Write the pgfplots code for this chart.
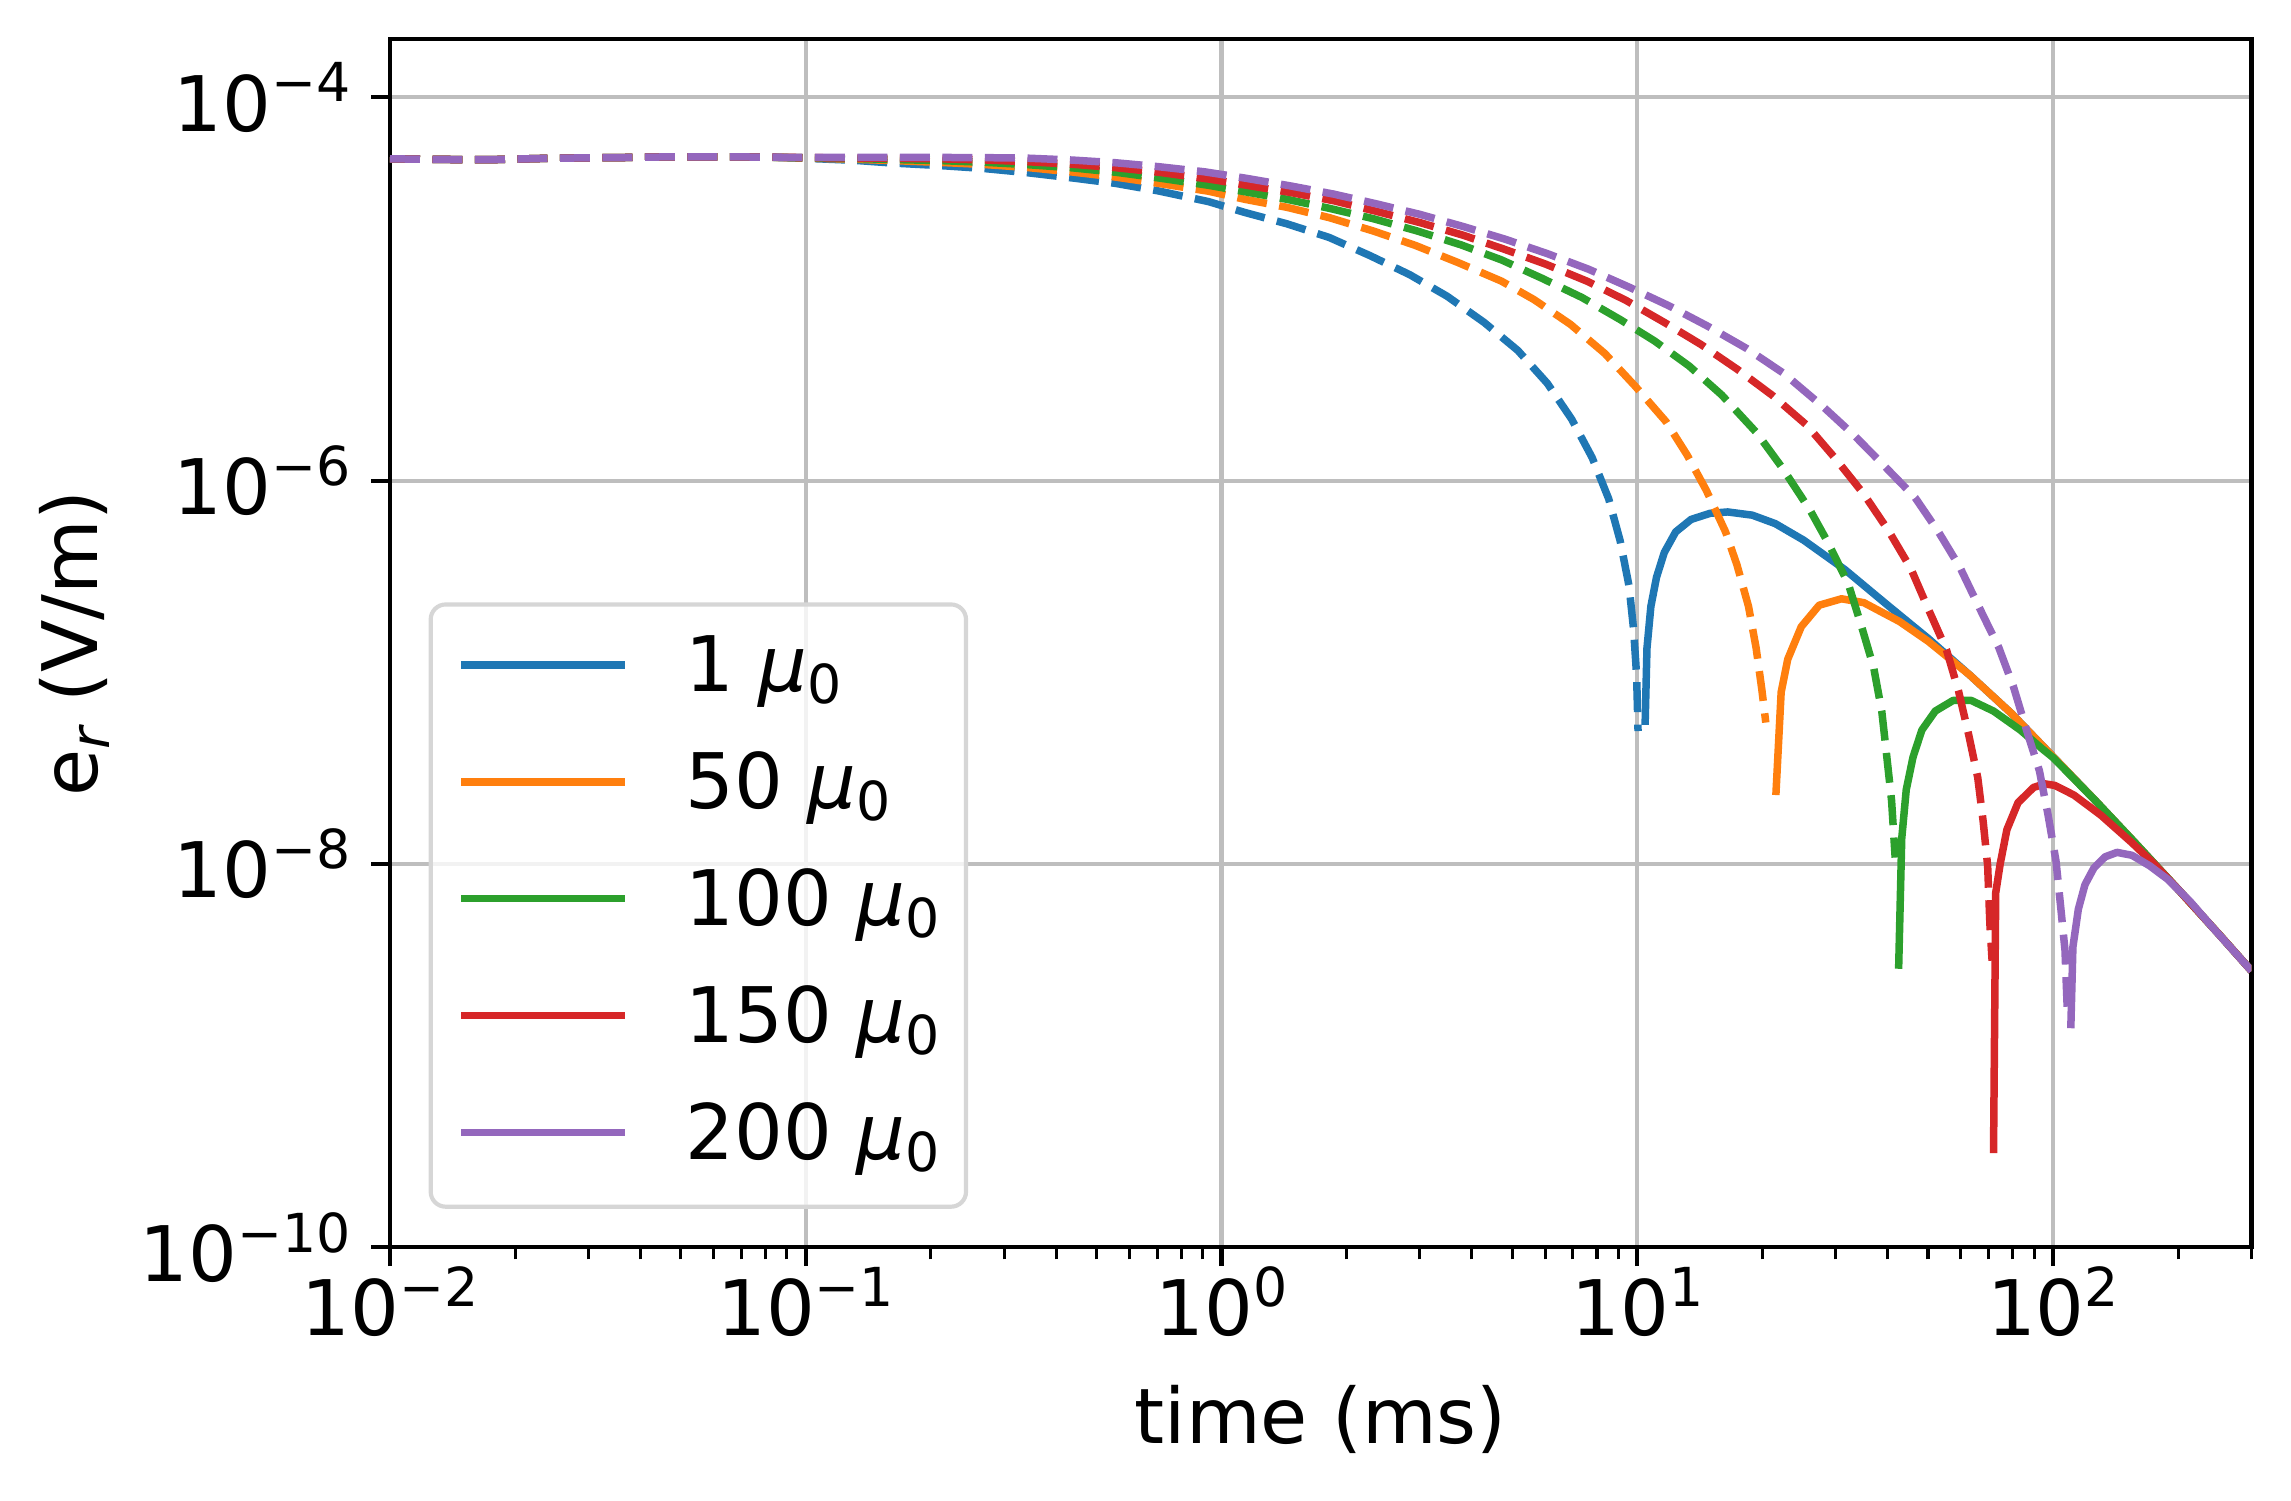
\documentclass[border=0pt]{standalone}
\usepackage{fontspec}
\setmainfont{DejaVu Sans}
\usepackage{pgfplots}
\pgfplotsset{compat=1.18}
\definecolor{cB}{HTML}{1F77B4}
\definecolor{cO}{HTML}{FF7F0E}
\definecolor{cG}{HTML}{2CA02C}
\definecolor{cR}{HTML}{D62728}
\definecolor{cP}{HTML}{9467BD}
\definecolor{gridc}{RGB}{190,190,190}
\definecolor{legc}{RGB}{214,214,214}
\newcommand{\fs}{\fontsize{18.4}{22}\selectfont}
\newcommand{\pw}[1]{10\raisebox{0.38em}{\fontsize{12.9}{13}\selectfont #1}}
\newcommand{\mz}{{\itshape μ}\raisebox{-0.16em}{\fontsize{12.9}{13}\selectfont 0}}
\begin{document}
\begin{tikzpicture}
\path[use as bounding box] (-93.6pt,-60.89pt) rectangle (456.24pt,299.35pt);
\begin{axis}[
  scale only axis, width=446.76pt, height=289.92pt,
  xmode=log, ymode=log,
  xmin=0.01, xmax=300, ymin=1e-10, ymax=2.01e-4,
  xtick={0.01,0.1,1,10,100},
  xticklabels={\pw{−2},\pw{−1},\pw{0},\pw{1},\pw{2}},
  minor xtick={0.02,0.03,0.04,0.05,0.06,0.07,0.08,0.09,0.2,0.3,0.4,0.5,0.6,0.7,0.8,0.9,2,3,4,5,6,7,8,9,20,30,40,50,60,70,80,90,200,300},
  ytick={1e-10,1e-8,1e-6,1e-4},
  yticklabels={\pw{−10},\pw{−8},\pw{−6},\pw{−4}},
  minor ytick={},
  grid=major, major grid style={gridc, line width=1pt},
  tick align=outside, xtick pos=left, ytick pos=left,
  major tick length=4.5pt, minor tick length=2.9pt,
  major tick style={black, line width=1pt},
  minor tick style={black, line width=0.75pt},
  axis line style={line width=1pt},
  tick label style={font=\fs},
  xticklabel style={inner sep=0pt},
  yticklabel style={inner sep=0pt, xshift=-4.8pt},
  xlabel={time (ms)},
  ylabel={e\raisebox{-0.16em}{\fontsize{12.9}{13}\selectfont\itshape r} (V/m)},
  every axis x label/.style={at={(axis description cs:0.5,-0.1428)}, anchor=center, font=\fs},
  every axis y label/.style={at={(axis description cs:-0.1697,0.5)}, rotate=90, anchor=center, font=\fs},
  legend cell align=left,
  legend image code/.code={\draw[#1] (0pt,6.4pt) -- (39.4pt,6.4pt);},
  legend style={at={(axis description cs:0,0)}, anchor=south west, xshift=9.27pt, yshift=9.24pt,
    draw=legc, line width=1pt, fill=white, fill opacity=0.8, text opacity=1,
    rounded corners=3.6pt, font=\fs, inner xsep=6.4pt, inner ysep=7.5pt,
    row sep=10.76pt, column sep=13.6pt,
    cells={anchor=base west},
    nodes={inner sep=0pt, text height=13.4pt, text depth=3.9pt}},
  every axis plot/.append style={line width=1.8pt, line join=round},
]
% ---------- 1 mu0 ----------
\addplot[cB, dash pattern=on 7.2pt off 3.0pt, forget plot] coordinates {
(0.01,4.78e-5) (0.0142,4.74e-5) (0.018,4.74e-5) (0.023,4.80e-5) (0.03,4.84e-5) (0.038,4.86e-5) (0.048,4.90e-5) (0.061,4.90e-5) (0.08,4.88e-5)
(0.1,4.81e-5) (0.13,4.70e-5) (0.163,4.54e-5) (0.21,4.41e-5) (0.267,4.26e-5) (0.34,4.05e-5) (0.4375,3.80e-5) (0.556,3.56e-5) (0.7055,3.25e-5) (0.93,2.86e-5) (1.137,2.51e-5) (1.436,2.19e-5) (1.814,1.86e-5) (2.266,1.50e-5) (2.832,1.19e-5) (3.486,9.18e-6) (4.28,6.70e-6) (5.16,4.78e-6) (6.076,3.22e-6) (6.947,2.10e-6) (7.786,1.32e-6) (8.533,8.05e-7) (9.095,4.85e-7) (9.55,2.83e-7) (9.797,1.67e-7) (9.96,9.68e-8) (10.04,4.94e-8)
};
\addplot[cB] coordinates {
(10.44,5.32e-8) (10.55,1.34e-7) (10.78,2.21e-7) (11.12,3.13e-7) (11.61,4.22e-7) (12.37,5.41e-7) (13.47,6.28e-7) (14.97,6.76e-7) (16.5,6.87e-7) (18.9,6.61e-7) (21.47,5.97e-7) (25.1,4.90e-7) (31.6,3.43e-7) (39.81,2.26e-7) (50.12,1.50e-7) (63.1,9.66e-8) (79.43,6.10e-8) (100,3.63e-8) (125.9,2.16e-8) (158.5,1.27e-8) (199.5,7.41e-9) (251.2,4.27e-9) (300,2.77e-9)
};
\addlegendentry{1 \mz}
% ---------- 50 mu0 ----------
\addplot[cO, dash pattern=on 7.2pt off 3.0pt, forget plot] coordinates {
(0.01,4.78e-5) (0.0142,4.74e-5) (0.018,4.74e-5) (0.023,4.80e-5) (0.03,4.84e-5) (0.038,4.86e-5) (0.048,4.90e-5) (0.061,4.90e-5) (0.08,4.88e-5)
(0.1,4.83e-5) (0.13,4.76e-5) (0.163,4.68e-5) (0.21,4.58e-5) (0.267,4.47e-5) (0.34,4.31e-5) (0.4375,4.08e-5) (0.556,3.84e-5) (0.7055,3.56e-5) (0.93,3.24e-5) (1.137,2.94e-5) (1.436,2.67e-5) (1.814,2.36e-5) (2.315,2.01e-5) (2.923,1.69e-5) (3.69,1.38e-5) (4.711,1.10e-5) (5.643,8.81e-6) (6.902,6.55e-6) (8.354,4.61e-6) (9.9,3.10e-6) (11.73,2.03e-6) (13.18,1.36e-6) (14.66,8.89e-7) (16.3,5.41e-7) (17.37,3.63e-7) (18.51,2.21e-7) (19.31,1.34e-7) (19.93,8.13e-8) (20.37,5.47e-8)
};
\addplot[cO] coordinates {
(21.54,2.29e-8) (22.18,7.89e-8) (23.0,1.17e-7) (24.79,1.73e-7) (27.38,2.24e-7) (30.98,2.42e-7) (35.06,2.31e-7) (42.74,1.84e-7) (50.12,1.45e-7) (63.1,9.66e-8) (79.43,6.10e-8) (100,3.63e-8) (125.9,2.16e-8) (158.5,1.27e-8) (199.5,7.41e-9) (251.2,4.27e-9) (300,2.77e-9)
};
\addlegendentry{50 \mz}
% ---------- 100 mu0 ----------
\addplot[cG, dash pattern=on 7.2pt off 3.0pt, forget plot] coordinates {
(0.01,4.78e-5) (0.0142,4.74e-5) (0.018,4.74e-5) (0.023,4.80e-5) (0.03,4.84e-5) (0.038,4.86e-5) (0.048,4.90e-5) (0.061,4.90e-5) (0.08,4.88e-5)
(0.1,4.84e-5) (0.13,4.80e-5) (0.163,4.74e-5) (0.21,4.68e-5) (0.267,4.59e-5) (0.34,4.46e-5) (0.4375,4.29e-5) (0.556,4.07e-5) (0.7055,3.80e-5) (0.93,3.48e-5) (1.137,3.22e-5) (1.436,2.94e-5) (1.814,2.64e-5) (2.315,2.33e-5) (2.954,2.01e-5) (3.769,1.70e-5) (4.711,1.42e-5) (5.887,1.14e-5) (7.356,9.04e-6) (9.095,6.93e-6) (11.0,5.36e-6) (13.32,3.97e-6) (15.96,2.80e-6) (19.36,1.78e-6) (22.3,1.17e-6) (26.05,7.00e-7) (28.77,4.74e-7) (32.16,2.90e-7) (34.64,1.73e-7) (37.02,1.06e-7) (38.72,6.28e-8) (39.68,3.90e-8) (40.88,2.14e-8) (41.7,1.08e-8)
};
\addplot[cG] coordinates {
(42.51,2.84e-9) (43.25,1.36e-8) (44.34,2.44e-8) (46.03,3.61e-8) (48.35,5.00e-8) (52.08,6.28e-8) (57.5,7.14e-8) (63.5,7.14e-8) (71.9,6.28e-8) (83.4,5.00e-8) (94.3,3.98e-8) (100,3.59e-8) (125.9,2.16e-8) (158.5,1.27e-8) (199.5,7.41e-9) (251.2,4.27e-9) (300,2.77e-9)
};
\addlegendentry{100 \mz}
% ---------- 150 mu0 ----------
\addplot[cR, dash pattern=on 7.2pt off 3.0pt, forget plot] coordinates {
(0.01,4.78e-5) (0.0142,4.74e-5) (0.018,4.74e-5) (0.023,4.80e-5) (0.03,4.84e-5) (0.038,4.86e-5) (0.048,4.90e-5) (0.061,4.90e-5) (0.08,4.88e-5)
(0.1,4.85e-5) (0.13,4.83e-5) (0.163,4.81e-5) (0.21,4.78e-5) (0.267,4.72e-5) (0.34,4.62e-5) (0.4375,4.48e-5) (0.556,4.30e-5) (0.7055,4.07e-5) (0.94,3.74e-5) (1.149,3.48e-5) (1.467,3.19e-5) (1.86,2.89e-5) (2.363,2.54e-5) (3.005,2.22e-5) (3.811,1.91e-5) (4.761,1.62e-5) (6.013,1.35e-5) (7.563,1.10e-5) (9.389,8.73e-6) (11.61,6.70e-6) (14.2,5.15e-6) (17.44,3.80e-6) (21.11,2.79e-6) (25.55,1.95e-6) (30.0,1.30e-6) (35.06,8.51e-7) (40.16,5.50e-7) (45.46,3.49e-7) (50.2,2.12e-7) (55.41,1.31e-7) (59.22,8.00e-8) (62.71,4.69e-8) (65.89,2.82e-8) (67.89,1.67e-8) (69.6,9.79e-9) (70.47,4.85e-9) (71.33,3.13e-9)
};
\addplot[cR] coordinates {
(71.9,3.10e-10) (72.78,7.08e-9) (74.6,1.00e-8) (77.42,1.51e-8) (82.35,2.09e-8) (89.77,2.51e-8) (95.5,2.62e-8) (101,2.57e-8) (112.2,2.29e-8) (130.2,1.80e-8) (154.8,1.29e-8) (175,1.00e-8) (199.5,7.41e-9) (251.2,4.27e-9) (300,2.77e-9)
};
\addlegendentry{150 \mz}
% ---------- 200 mu0 ----------
\addplot[cP, dash pattern=on 7.2pt off 3.0pt, forget plot] coordinates {
(0.01,4.78e-5) (0.0142,4.74e-5) (0.018,4.74e-5) (0.023,4.80e-5) (0.03,4.84e-5) (0.038,4.86e-5) (0.048,4.90e-5) (0.061,4.90e-5) (0.08,4.88e-5)
(0.1,4.86e-5) (0.13,4.86e-5) (0.163,4.86e-5) (0.21,4.86e-5) (0.267,4.85e-5) (0.34,4.82e-5) (0.4375,4.71e-5) (0.556,4.56e-5) (0.7055,4.35e-5) (0.91,4.09e-5) (1.149,3.78e-5) (1.467,3.45e-5) (1.86,3.13e-5) (2.363,2.78e-5) (3.005,2.45e-5) (3.811,2.12e-5) (4.811,1.82e-5) (6.076,1.53e-5) (7.627,1.27e-5) (9.587,1.02e-5) (11.91,8.18e-6) (14.81,6.38e-6) (18.31,4.90e-6) (22.5,3.63e-6) (28.05,2.42e-6) (33.37,1.71e-6) (39.19,1.20e-6) (46.59,8.15e-7) (53.02,5.40e-7) (59.7,3.53e-7) (66.22,2.21e-7) (74.0,1.35e-7) (80.29,8.41e-8) (86.48,4.93e-8) (92.68,3.07e-8) (97.16,1.82e-8) (101.6,1.04e-8) (104.1,6.21e-9) (106.8,3.56e-9) (108.1,1.80e-9)
};
\addplot[cP] coordinates {
(110.3,1.39e-9) (111.6,3.69e-9) (115.0,5.81e-9) (119.3,7.80e-9) (125.4,9.55e-9) (133.4,1.09e-8) (142.5,1.15e-8) (154.8,1.11e-8) (170.9,9.77e-9) (188.7,8.32e-9) (213.5,6.38e-9) (241.6,4.68e-9) (273.4,3.47e-9) (300,2.77e-9)
};
\addlegendentry{200 \mz}
\end{axis}
\end{tikzpicture}
\end{document}
